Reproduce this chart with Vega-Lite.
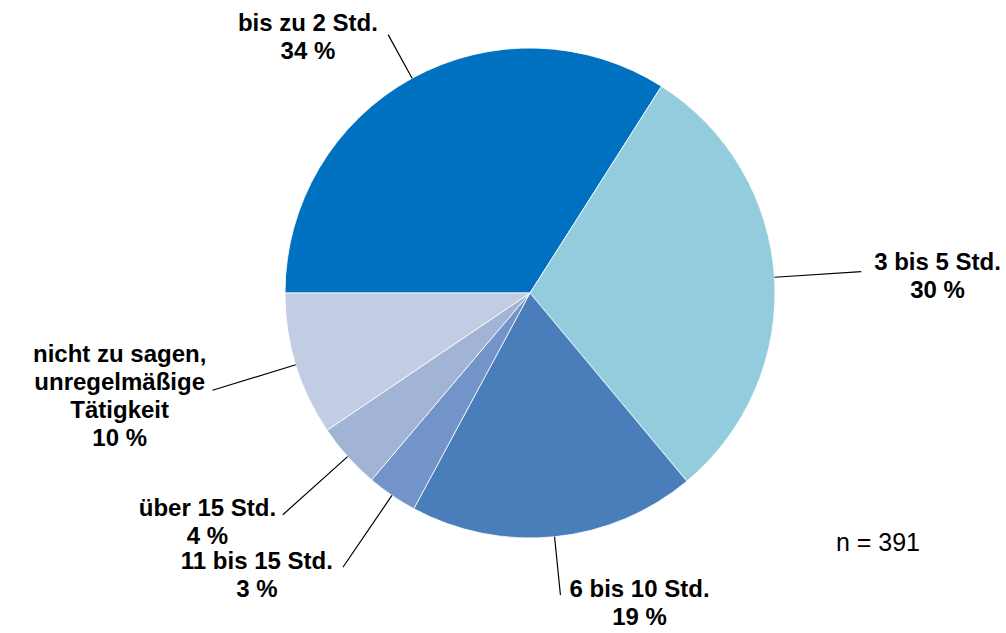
{
  "$schema": "https://vega.github.io/schema/vega-lite/v6.json",
  "width": 952,
  "height": 586,
  "autosize": {"type": "none"},
  "padding": {"left": 54, "top": 0, "right": 0, "bottom": 47},
  "background": "white",
  "title": {
    "text": "n = 391",
    "orient": "bottom",
    "anchor": "end",
    "frame": "group",
    "font": "Liberation Sans",
    "fontSize": 25,
    "fontWeight": "normal",
    "color": "#000000",
    "offset": -99,
    "dx": -86
  },
  "data": {
    "values": [
      {"ord": 1, "kategorie": "bis zu 2 Std.", "anzahl": 133, "label": "bis zu 2 Std.\n34 %"},
      {"ord": 2, "kategorie": "3 bis 5 Std.", "anzahl": 117, "label": "3 bis 5 Std.\n30 %"},
      {"ord": 3, "kategorie": "6 bis 10 Std.", "anzahl": 74, "label": "6 bis 10 Std.\n19 %"},
      {"ord": 4, "kategorie": "11 bis 15 Std.", "anzahl": 13, "label": "11 bis 15 Std.\n3 %"},
      {"ord": 5, "kategorie": "über 15 Std.", "anzahl": 17, "label": "über 15 Std.\n4 %"},
      {"ord": 6, "kategorie": "nicht zu sagen, unregelmäßige Tätigkeit", "anzahl": 37, "label": "nicht zu sagen,\nunregelmäßige\nTätigkeit\n10 %"}
    ]
  },
  "encoding": {
    "theta": {
      "field": "anzahl",
      "type": "quantitative",
      "stack": true,
      "scale": {"range": [-1.5707963267948966, 4.71238898038469]}
    },
    "order": {"field": "ord", "type": "quantitative"}
  },
  "layer": [
    {
      "mark": {"type": "arc", "radius": 245, "stroke": "#ffffff", "strokeWidth": 0.8},
      "encoding": {
        "color": {
          "field": "kategorie",
          "type": "nominal",
          "scale": {
            "domain": ["bis zu 2 Std.", "3 bis 5 Std.", "6 bis 10 Std.", "11 bis 15 Std.", "über 15 Std.", "nicht zu sagen, unregelmäßige Tätigkeit"],
            "range": ["#0070C0", "#93CDDD", "#4A7EBB", "#7394C8", "#A2B4D6", "#C2CDE3"]
          },
          "legend": null
        }
      }
    },
    {
      "transform": [
        {"stack": "anzahl", "groupby": [], "sort": [{"field": "ord", "order": "ascending"}], "as": ["s0", "s1"]}
      ],
      "mark": {
        "type": "arc",
        "filled": false,
        "stroke": "#000000",
        "strokeWidth": 1.2,
        "radius2": 245,
        "radius": {"expr": "min(335, cos(scale('theta', (datum.s0 + datum.s1) / 2)) > 0 ? 261 / cos(scale('theta', (datum.s0 + datum.s1) / 2)) : 305 / max(0.000001, -cos(scale('theta', (datum.s0 + datum.s1) / 2)))) - 3"},
        "thetaOffset": {"expr": "(scale('theta', datum.s1) - scale('theta', datum.s0)) / 2"},
        "theta2Offset": {"expr": "(scale('theta', datum.s1) - scale('theta', datum.s0)) / 2"}
      },
      "encoding": {
        "theta": {"field": "s0", "type": "quantitative", "stack": null},
        "theta2": {"field": "s0"}
      }
    },
    {
      "mark": {
        "type": "text",
        "font": "Liberation Sans",
        "fontSize": 24,
        "fontWeight": "bold",
        "lineBreak": "\n",
        "lineHeight": 28,
        "align": "center",
        "baseline": "middle",
        "color": "#000000",
        "radius": {"expr": "min(335, cos(scale('theta', (datum.anzahl_start + datum.anzahl_end) / 2)) > 0 ? 261 / cos(scale('theta', (datum.anzahl_start + datum.anzahl_end) / 2)) : 305 / max(0.000001, -cos(scale('theta', (datum.anzahl_start + datum.anzahl_end) / 2))))"},
        "dx": {"expr": "(sin(scale('theta', (datum.anzahl_start + datum.anzahl_end) / 2)) > 0 ? 1 : -1) * (6 + 5.6 * indexof(datum.label, '\\n'))"},
        "dy": {"expr": "6 - 14 * (length(split(datum.label, '\\n')) - 1)"}
      },
      "encoding": {
        "text": {"field": "label", "type": "nominal"}
      }
    }
  ]
}
